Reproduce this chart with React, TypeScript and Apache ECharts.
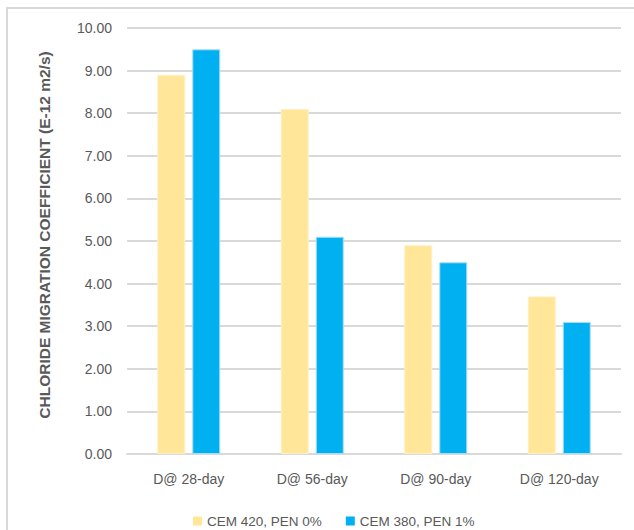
import React, { useEffect, useRef } from "react";
import * as echarts from "echarts";

const categories = ["D@ 28-day", "D@ 56-day", "D@ 90-day", "D@ 120-day"];
const cem420 = [8.9, 8.1, 4.9, 3.7];
const cem380 = [9.5, 5.1, 4.5, 3.1];
const seriesNames = ["CEM 420, PEN 0%", "CEM 380, PEN 1%"];
const yTitle = "CHLORIDE MIGRATION COEFFICIENT (E-12 m2/s)";

export default function App() {
  const ref = useRef<HTMLDivElement>(null);
  useEffect(() => {
    if (!ref.current) return;
    const chart = echarts.init(ref.current, undefined, { renderer: "svg" });
    const font = "'Liberation Sans', Arial, sans-serif";
    chart.setOption({
      animation: false,
      backgroundColor: "#ffffff",
      textStyle: { fontFamily: font },
      graphic: [
        {
          type: "rect",
          shape: { x: 7, y: 8, width: 700, height: 600 },
          style: { fill: "none", stroke: "#D9D9D9", lineWidth: 2 },
          z: -1,
        },
        {
          type: "text",
          x: 44,
          y: 235,
          rotation: Math.PI / 2,
          style: {
            text: yTitle,
            fill: "#595959",
            font: "bold 15.5px " + font,
            textAlign: "center",
            textVerticalAlign: "middle",
          },
        },
      ],
      grid: { left: 127, right: 13, top: 28, bottom: 76 },
      legend: {
        left: 188,
        top: 509,
        itemWidth: 9,
        itemHeight: 9,
        itemGap: 24,
        icon: "rect",
        itemStyle: { borderWidth: 0 },
        textStyle: { color: "#595959", fontSize: 13.5, fontFamily: font },
        data: seriesNames,
      },
      xAxis: {
        type: "category",
        data: categories,
        axisLine: { lineStyle: { color: "#D9D9D9", width: 2 } },
        axisTick: { show: false },
        axisLabel: { color: "#595959", fontSize: 14, margin: 18, fontFamily: font },
      },
      yAxis: {
        type: "value",
        min: 0,
        max: 10,
        interval: 1,
        axisLine: { show: false },
        axisTick: { show: false },
        axisLabel: {
          color: "#595959",
          fontSize: 14,
          margin: 15,
          fontFamily: font,
          formatter: (v: number) => v.toFixed(2),
        },
        splitLine: { lineStyle: { color: "#D9D9D9", width: 2 } },
      },
      series: [
        {
          name: seriesNames[0],
          type: "bar",
          data: cem420,
          barWidth: 28,
          barGap: "25%",
          itemStyle: { color: "#FFE699", borderColor: "#FFF0C4", borderWidth: 1 },
        },
        {
          name: seriesNames[1],
          type: "bar",
          data: cem380,
          barWidth: 28,
          barGap: "25%",
          itemStyle: { color: "#00B0F0", borderColor: "#A9DDF5", borderWidth: 1 },
        },
      ],
    });
    return () => chart.dispose();
  }, []);
  return (
    <div
      ref={ref}
      style={{ position: "fixed", left: 0, top: 0, width: 634, height: 530 }}
    />
  );
}
